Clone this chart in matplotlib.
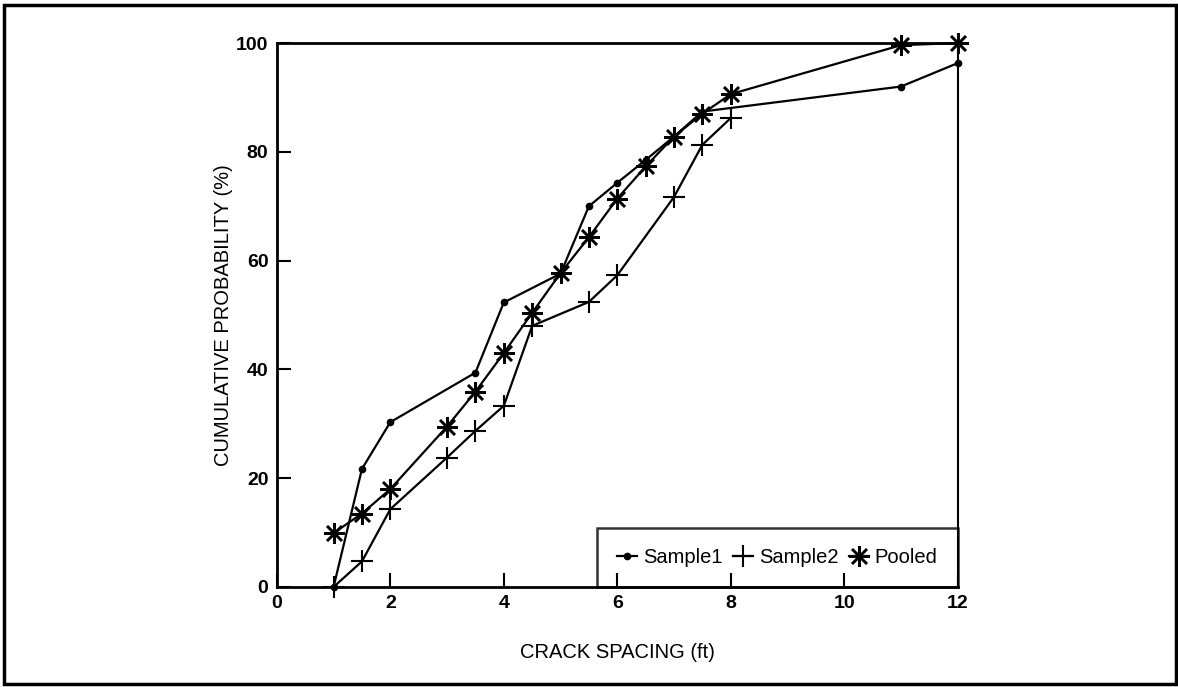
#Cumulative probability of crack spacing
import numpy as np
import matplotlib.pyplot as plt
from matplotlib.patches import Rectangle

plt.rcParams['font.family'] = ['Liberation Sans', 'DejaVu Sans']

#Data
x_s1 = [1, 1.5, 2, 3.5, 4, 5, 5.5, 6, 6.5, 7, 7.5, 11, 12]
y_s1 = [0, 21.7, 30.3, 39.4, 52.3, 57.6, 70.0, 74.3, 78.5, 82.8, 87.4, 92.0, 96.3]

x_s2 = [1, 1.5, 2, 3, 3.5, 4, 4.5, 5.5, 6, 7, 7.5, 8]
y_s2 = [0, 4.7, 14.3, 23.8, 28.7, 33.3, 48.0, 52.4, 57.3, 71.7, 81.3, 86.2]

x_pool = [1, 1.5, 2, 3, 3.5, 4, 4.5, 5, 5.5, 6, 6.5, 7, 7.5, 8, 11, 12]
y_pool = [9.9, 13.5, 18.0, 29.5, 35.9, 43.0, 50.4, 57.7, 64.3, 71.4, 77.3, 82.8, 87.0, 90.6, 99.6, 100]

x_ticks = [0, 2, 4, 6, 8, 10, 12]
y_ticks = [0, 20, 40, 60, 80, 100]

fig = plt.figure(figsize=(11.78, 6.87), dpi=100)
ax = fig.add_axes([0.235, 0.1456, 0.578, 0.7918])

ax.plot(x_s1, y_s1, color='black', lw=1.6, marker='o', ms=4.5, label='Sample1', clip_on=False)
ax.plot(x_s2, y_s2, color='black', lw=1.6, marker='+', ms=16, mew=1.5, label='Sample2', clip_on=False)
ax.plot(x_pool, y_pool, color='black', lw=1.6, marker=(8, 2, 0), ms=15, mew=1.8, label='Pooled', clip_on=False)

ax.set_xlim(0, 12)
ax.set_ylim(0, 100)
ax.set_xticks(x_ticks)
ax.set_yticks(y_ticks)
ax.tick_params(direction='in', length=10, width=1.5, labelsize=14, pad=6)
for lab in ax.get_xticklabels() + ax.get_yticklabels():
    lab.set_fontweight('bold')
for s in ax.spines.values():
    s.set_linewidth(2)
ax.spines['right'].set_linewidth(1.5)

ax.set_xlabel('CRACK SPACING (ft)', fontsize=14.5, labelpad=22)
ax.set_ylabel('CUMULATIVE PROBABILITY (%)', fontsize=14.5, labelpad=2)

leg = ax.legend(loc='lower right', ncol=3, frameon=True, fancybox=False,
                edgecolor='black', facecolor='none', fontsize=14.5,
                handlelength=1.0, handletextpad=0.3, columnspacing=0.5,
                borderaxespad=0, borderpad=1.0)
leg.get_frame().set_linewidth(1.8)

#Outer frame round the figure
fig.patches.append(Rectangle((0.003, 0.004), 0.995, 0.988, transform=fig.transFigure,
                             fill=False, edgecolor='black', lw=2.5))

fig.savefig('out.png', dpi=100)
